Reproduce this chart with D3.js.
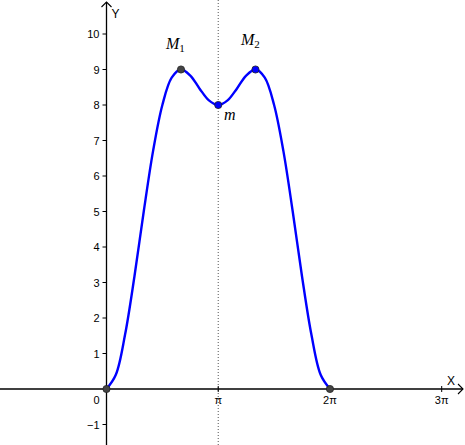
<!DOCTYPE html>
<html>
<head>
<meta charset="utf-8">
<script src="https://cdn.jsdelivr.net/npm/d3@7"></script>
<style>
  body { margin: 0; background: #fff; }
  svg { display: block; }
</style>
</head>
<body>
<svg id="chart"></svg>
<script>
// curve samples, x in multiples of pi/12, y
const sampleSteps = [0, 1, 2, 3, 4, 5, 6, 7, 8, 9, 10, 11, 12, 13, 14, 15, 16, 17, 18, 19, 20, 21, 22, 23, 24];
const sampleValues = [0, 0.4, 1.54, 3.17, 5, 6.7, 8, 8.77, 9, 8.83, 8.46, 8.13, 8, 8.13, 8.46, 8.83, 9, 8.77, 8, 6.7, 5, 3.17, 1.54, 0.4, 0];

// marked points (x in multiples of pi)
const pointNames = ["O", "M1", "m", "M2", "E"];
const pointX = [0, 2 / 3, 1, 4 / 3, 2];
const pointY = [0, 9, 8, 9, 0];
const pointFill = ["#444", "#444", "#0000ff", "#0000ff", "#444"];

const yTicks = [-1, 1, 2, 3, 4, 5, 6, 7, 8, 9, 10];
const xTicks = [1, 2, 3];
const xTickLabels = ["π", "2π", "3π"];

const width = 465, height = 445;

const svg = d3.select("#chart")
    .attr("width", width)
    .attr("height", height);

const x = d3.scaleLinear()
    .domain([0, 3 * Math.PI])
    .range([106.5, 441.7]);
const y = d3.scaleLinear()
    .domain([0, 10])
    .range([389, 34]);

// dotted line at x = pi
svg.append("line")
    .attr("x1", x(Math.PI)).attr("x2", x(Math.PI))
    .attr("y1", 0).attr("y2", height)
    .attr("stroke", "#555")
    .attr("stroke-width", 1)
    .attr("stroke-dasharray", "1,2");

// axes lines
const axisColor = "#000";
svg.append("line")
    .attr("x1", 0).attr("x2", width - 2)
    .attr("y1", y(0)).attr("y2", y(0))
    .attr("stroke", axisColor).attr("stroke-width", 1.3);
svg.append("path")
    .attr("d", `M${width - 7},${y(0) - 5}L${width - 2},${y(0)}L${width - 7},${y(0) + 5}`)
    .attr("fill", "none").attr("stroke", axisColor).attr("stroke-width", 1.1);

svg.append("line")
    .attr("x1", x(0)).attr("x2", x(0))
    .attr("y1", 2).attr("y2", height)
    .attr("stroke", axisColor).attr("stroke-width", 1.3);
svg.append("path")
    .attr("d", `M${x(0) - 5},7L${x(0)},2L${x(0) + 5},7`)
    .attr("fill", "none").attr("stroke", axisColor).attr("stroke-width", 1.1);

// axis names
svg.append("text")
    .attr("x", x(0) + 5).attr("y", 18)
    .style("font-family", "Liberation Sans, Arial, sans-serif")
    .style("font-size", "12px")
    .text("Y");
svg.append("text")
    .attr("x", 447).attr("y", 385)
    .style("font-family", "Liberation Sans, Arial, sans-serif")
    .style("font-size", "12px")
    .text("X");

// y ticks
const yg = svg.append("g");
yg.selectAll("line")
    .data(yTicks)
    .enter().append("line")
    .attr("x1", x(0) - 4).attr("x2", x(0))
    .attr("y1", d => y(d)).attr("y2", d => y(d))
    .attr("stroke", axisColor);
yg.selectAll("text")
    .data(yTicks)
    .enter().append("text")
    .attr("x", x(0) - 7)
    .attr("y", d => y(d) + 4)
    .attr("text-anchor", "end")
    .style("font-family", "Liberation Sans, Arial, sans-serif")
    .style("font-size", "11px")
    .text(d => d < 0 ? "\u2212" + Math.abs(d) : d);

// x ticks
const xg = svg.append("g");
xg.selectAll("line")
    .data(xTicks)
    .enter().append("line")
    .attr("x1", d => x(d * Math.PI)).attr("x2", d => x(d * Math.PI))
    .attr("y1", y(0) - 3).attr("y2", y(0) + 3)
    .attr("stroke", axisColor);
xg.selectAll("text")
    .data(xTicks)
    .enter().append("text")
    .attr("x", d => x(d * Math.PI))
    .attr("y", y(0) + 15)
    .attr("text-anchor", "middle")
    .style("font-family", "Liberation Sans, Arial, sans-serif")
    .style("font-size", "11px")
    .text((d, i) => xTickLabels[i]);

svg.append("text")
    .attr("x", x(0) - 7).attr("y", y(0) + 15)
    .attr("text-anchor", "end")
    .style("font-family", "Liberation Sans, Arial, sans-serif")
    .style("font-size", "11px")
    .text("0");

// curve
const line = d3.line()
    .x((d, i) => x(d * Math.PI / 12))
    .y((d, i) => y(sampleValues[i]))
    .curve(d3.curveCatmullRom.alpha(0.5));

svg.append("path")
    .datum(sampleSteps)
    .attr("d", line)
    .attr("fill", "none")
    .attr("stroke", "#0000ff")
    .attr("stroke-width", 2.4);

// points
svg.append("g").selectAll("circle")
    .data(pointNames)
    .enter().append("circle")
    .attr("cx", (d, i) => x(pointX[i] * Math.PI))
    .attr("cy", (d, i) => y(pointY[i]))
    .attr("r", 3.6)
    .attr("fill", (d, i) => pointFill[i])
    .attr("stroke", "#222")
    .attr("stroke-width", 0.8);

// point labels
function addLabel(px, py, main, sub) {
    const t = svg.append("text")
        .attr("x", px).attr("y", py)
        .style("font-family", "Liberation Serif, serif")
        .style("font-style", "italic")
        .style("font-size", "16px")
        .text(main);
    if (sub) {
        t.append("tspan")
            .attr("dy", 3)
            .style("font-style", "normal")
            .style("font-size", "11px")
            .text(sub);
    }
}
addLabel(166, 49, "M", "1");
addLabel(241, 45, "M", "2");
addLabel(224, 120, "m", null);
</script>
</body>
</html>
